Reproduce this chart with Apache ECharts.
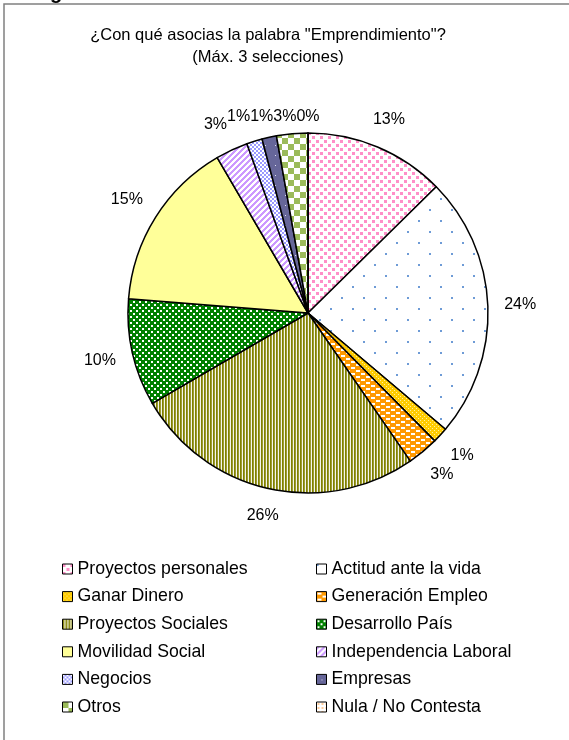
<!DOCTYPE html>
<html><head><meta charset="utf-8">
<script src="https://cdn.jsdelivr.net/npm/echarts@6/dist/echarts.min.js"></script>
<style>html,body{margin:0;padding:0;background:#fff}#c{width:569px;height:740px}</style>
</head><body><div id="c"></div>
<script>
const categories = ['Proyectos personales','Actitud ante la vida','Ganar Dinero','Generación Empleo','Proyectos Sociales','Desarrollo País','Movilidad Social','Independencia Laboral','Negocios','Empresas','Otros','Nula / No Contesta'];
const values = [12.6, 23.5, 1.4, 2.8, 26.2, 9.6, 15.3, 2.9, 1.4, 1.3, 2.8, 0];
const titleLines = ['¿Con qué asocias la palabra "Emprendimiento"?', '(Máx. 3 selecciones)'];
const headingFragment = 'g';

function tile(w,h,draw){const c=document.createElement('canvas');c.width=w;c.height=h;const g=c.getContext('2d');draw(g,w,h);return {image:c,repeat:'repeat'};}
function px(g,color,x,y,w,h){g.fillStyle=color;g.fillRect(x,y,w,h);}
function perPixel(w,h,fn){return tile(w,h,(g)=>{for(let y=0;y<h;y++)for(let x=0;x<w;x++){px(g,fn(x,y),x,y,1,1);}});}

const patterns = [
  tile(8,8,(g)=>{px(g,'#fff',0,0,8,8);px(g,'#FF8FC8',0,0,3,3);px(g,'#FF8FC8',4,4,3,3);}),
  tile(22,22,(g)=>{px(g,'#fff',0,0,22,22);px(g,'#6E9BD6',0,0,2,2);px(g,'#6E9BD6',11,11,2,2);}),
  tile(4,4,(g)=>{px(g,'#FFCC00',0,0,4,4);px(g,'#FFF0A0',0,0,1,1);px(g,'#FFF0A0',2,2,1,1);}),
  tile(10,6,(g)=>{px(g,'#FF9900',0,0,10,6);px(g,'#FFFFFF',1,1,4,2);px(g,'#FFFFFF',6,4,4,2);}),
  perPixel(3,1,(x)=>['#808000','#9C9C33','#F5F5EB'][x]),
  tile(6,6,(g)=>{px(g,'#008000',0,0,6,6);px(g,'#FFFFFF',1,1,2,2);px(g,'#FFFFFF',4,4,2,2);}),
  '#FFFF99',
  perPixel(6,6,(x,y)=>((x+y)%6<3)?'#CC99FF':'#FFFFFF'),
  tile(4,4,(g)=>{px(g,'#9999FF',0,0,4,4);px(g,'#FFFFFF',0,0,2,2);px(g,'#FFFFFF',2,2,2,2);}),
  tile(10,10,(g)=>{px(g,'#666699',0,0,10,10);px(g,'#E0E0F0',5,5,1,1);}),
  tile(12,12,(g)=>{px(g,'#FFFFFF',0,0,12,12);px(g,'#9BBB59',0,0,6,6);px(g,'#9BBB59',6,6,6,6);}),
  tile(4,4,(g)=>{px(g,'#FFFFFF',0,0,4,4);px(g,'#FFCC99',1,1,2,2);})
];

const chart = echarts.init(document.getElementById('c'), null, {renderer:'canvas'});
const FONT = 'Liberation Sans';
const GAP = 16, TOP_MIN = 117;
const natural = [];

function naturalLayout(p){
  const pts = p.labelLinePoints;
  if (!pts || pts.length < 2) return {};
  const x0=pts[0][0], y0=pts[0][1];
  let dx=pts[1][0]-x0, dy=pts[1][1]-y0;
  const L=Math.hypot(dx,dy)||1; dx/=L; dy/=L;
  const w=p.labelRect.width, h=p.labelRect.height;
  const ext=Math.abs(dx)*w/2+Math.abs(dy)*h/2;
  const cx=x0+dx*(GAP+ext);
  let cy=y0+dy*(GAP+ext);
  if (cy < TOP_MIN) cy = TOP_MIN;
  natural[p.dataIndex] = {x:cx, y:cy, w:w, h:h};
  return {x:cx, y:cy, align:'center', verticalAlign:'middle'};
}

const legendText = {fontSize:17.7, color:'#000', fontFamily:FONT, lineHeight:20};
const legendBase = {orient:'vertical', top:559, padding:0, itemWidth:10, itemHeight:10, itemGap:7.6, icon:'rect', selectedMode:false,
  textStyle:legendText, itemStyle:{borderColor:'#000', borderWidth:1}};
const option = {
  animation:false,
  backgroundColor:'#fff',
  title:{text:titleLines.join('\n'), left:268, top:24, padding:0, textAlign:'center',
    textStyle:{fontSize:16.5, fontWeight:'normal', color:'#000', fontFamily:FONT, lineHeight:22}},
  graphic:[
    {type:'rect', silent:true, shape:{x:4,y:4,width:700,height:900}, style:{fill:'none', stroke:'#808080', lineWidth:1.5}},
    {type:'text', silent:true, x:50, y:-17, style:{text:headingFragment, font:'bold 20px "Liberation Sans"', fill:'#000'}}
  ],
  legend:[
    Object.assign({left:62, data:categories.filter((_,i)=>i%2===0)}, legendBase),
    Object.assign({left:316, data:categories.filter((_,i)=>i%2===1)}, legendBase)
  ],
  series:[{
    type:'pie', center:[308,313], radius:180, startAngle:90, clockwise:true,
    avoidLabelOverlap:false, minShowLabelAngle:0,
    itemStyle:{borderColor:'#000', borderWidth:1.5},
    label:{show:true, position:'outside', color:'#000', fontSize:16, fontFamily:FONT,
      formatter:(p)=>Math.round(p.value)+'%'},
    labelLine:{show:true, length:10, length2:0, lineStyle:{opacity:0, width:0}},
    emphasis:{disabled:true},
    data:categories.map((n,i)=>({name:n, value:values[i], itemStyle:{color:patterns[i]}})),
    labelLayout:naturalLayout
  }]
};
chart.setOption(option);

// resolve horizontal overlaps between neighbouring labels (push leftwards)
const adjusted = natural.map(o=>o?Object.assign({},o):null);
for (let i=adjusted.length-2;i>=0;i--){
  const a=adjusted[i], b=adjusted[i+1];
  if(!a||!b) continue;
  const yOverlap = Math.abs(a.y-b.y) < (a.h+b.h)/2 - 2;
  if (yOverlap && a.x < b.x && a.x + a.w/2 > b.x - b.w/2){
    a.x = b.x - b.w/2 - a.w/2;
  }
}
chart.setOption({series:[{labelLayout:(p)=>{
  const a=adjusted[p.dataIndex];
  return a?{x:a.x, y:a.y, align:'center', verticalAlign:'middle'}:{};
}}]});
</script>
</body></html>
